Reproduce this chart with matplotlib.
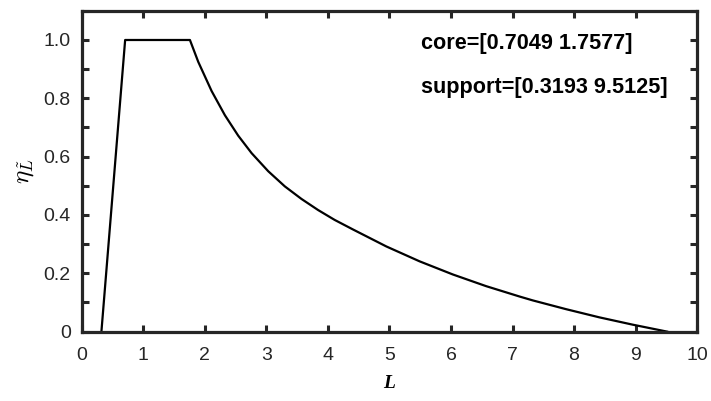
import matplotlib
matplotlib.use("Agg")
import matplotlib.pyplot as plt
from matplotlib.ticker import MultipleLocator, FuncFormatter

# Membership function: rising edge, core plateau, decaying tail
core = [0.7049, 1.7577]
support = [0.3193, 9.5125]

L_tail = [1.7577, 1.893, 2.11, 2.326, 2.542, 2.76, 3.03, 3.30, 3.57, 3.84,
          4.11, 4.41, 4.95, 5.49, 6.03, 6.57, 7.12, 7.33, 7.87, 8.41, 8.95, 9.5125]
eta_tail = [1.0, 0.925, 0.825, 0.742, 0.672, 0.612, 0.550, 0.498, 0.455, 0.417,
            0.383, 0.350, 0.292, 0.241, 0.196, 0.156, 0.120, 0.107, 0.077, 0.049, 0.024, 0.0]

L_vals = [support[0], core[0], core[1]] + L_tail[1:]
eta_vals = [0.0, 1.0, 1.0] + eta_tail[1:]

plt.rcParams["mathtext.fontset"] = "cm"
plt.rcParams["font.family"] = ["Liberation Sans", "DejaVu Sans"]

fig = plt.figure(figsize=(7.11, 4.01), dpi=100)
ax = fig.add_axes([0.115, 0.173, 0.8655, 0.8])

ax.plot(L_vals, eta_vals, color="black", lw=1.6, solid_joinstyle="round")

ax.set_xlim(0, 10)
ax.set_ylim(0, 1.1)
ax.xaxis.set_major_locator(MultipleLocator(1))
ax.yaxis.set_major_locator(MultipleLocator(0.2))
ax.yaxis.set_minor_locator(MultipleLocator(0.1))
ax.yaxis.set_major_formatter(FuncFormatter(
    lambda v, p: "0" if abs(v) < 1e-9 else f"{v:.1f}"))

spine_col = "#262626"
for s in ax.spines.values():
    s.set_linewidth(2.3)
    s.set_color(spine_col)
ax.tick_params(which="both", direction="in", top=True, right=True,
               width=2.2, length=5, color=spine_col,
               labelsize=14, labelcolor=spine_col)
ax.tick_params(axis="x", pad=11)
ax.tick_params(axis="y", pad=8)

ax.set_xlabel("L", fontsize=14, fontstyle="italic", fontweight="bold",
              family="Liberation Serif", labelpad=8)
ax.set_ylabel(r"$\eta_{\tilde{L}}$", fontsize=18, labelpad=4)

ax.text(5.52, 0.968, f"core=[{core[0]:.4f} {core[1]:.4f}]",
        fontsize=15.6, fontweight="bold", va="baseline", ha="left")
ax.text(5.52, 0.819, f"support=[{support[0]:.4f} {support[1]:.4f}]",
        fontsize=15.6, fontweight="bold", va="baseline", ha="left")

fig.savefig("out.png", dpi=100)
